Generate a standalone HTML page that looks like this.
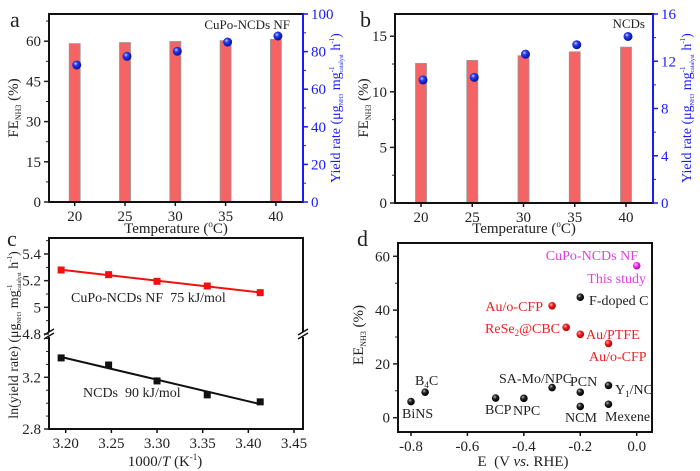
<!DOCTYPE html>
<html><head><meta charset="utf-8"><style>
html,body{margin:0;padding:0;background:#fff}
svg{display:block;font-family:"Liberation Serif",serif}
</style></head><body>
<svg id="fig" width="700" height="471" viewBox="0 0 700 471" xmlns="http://www.w3.org/2000/svg">
<defs>
<radialGradient id="gBlue" cx="0.38" cy="0.35" r="0.65"><stop offset="0" stop-color="#c8d4ff"/><stop offset="0.35" stop-color="#2a3cf0"/><stop offset="1" stop-color="#0010a0"/></radialGradient>
<radialGradient id="gBlack" cx="0.38" cy="0.35" r="0.65"><stop offset="0" stop-color="#bbb"/><stop offset="0.4" stop-color="#222"/><stop offset="1" stop-color="#000"/></radialGradient>
<radialGradient id="gRed" cx="0.38" cy="0.35" r="0.65"><stop offset="0" stop-color="#ffc0c0"/><stop offset="0.4" stop-color="#f02020"/><stop offset="1" stop-color="#b00000"/></radialGradient>
<radialGradient id="gMag" cx="0.38" cy="0.35" r="0.65"><stop offset="0" stop-color="#ffd0ff"/><stop offset="0.4" stop-color="#f040f0"/><stop offset="1" stop-color="#b000b0"/></radialGradient>
</defs>
<g id="pa"></g>
<g id="pb"></g>
<g id="pc"></g>
<g id="pd"></g>

<g font-size="15" fill="#222">
<text x="10" y="27" font-size="22">a</text>
<text x="360" y="27" font-size="22">b</text>
<text x="7" y="246" font-size="22">c</text>
<text x="357" y="246" font-size="22">d</text>

<text x="290" y="29" font-size="13" text-anchor="end">CuPo-NCDs NF</text>
<text x="645" y="28" font-size="13" text-anchor="end">NCDs</text>

<text x="176" y="233" text-anchor="middle">Temperature (<tspan font-size="9" dy="-6">o</tspan><tspan dy="6">C)</tspan></text>
<text x="524" y="233" text-anchor="middle">Temperature (<tspan font-size="9" dy="-6">o</tspan><tspan dy="6">C)</tspan></text>

<text transform="translate(18,108) rotate(-90)" text-anchor="middle">FE<tspan font-size="8" dy="3">NH3</tspan><tspan dy="-3"> (%)</tspan></text>
<text transform="translate(368,108) rotate(-90)" text-anchor="middle">FE<tspan font-size="8" dy="3">NH3</tspan><tspan dy="-3"> (%)</tspan></text>
<text transform="translate(340,108) rotate(-90)" text-anchor="middle" font-size="14" fill="#1a1aff">Yield rate (μg<tspan font-size="6" dy="3">NH3</tspan><tspan dy="-3"> mg</tspan><tspan font-size="7" dy="-6">-1</tspan><tspan font-size="6" dx="-6" dy="9">catalyst</tspan><tspan dy="-3"> h</tspan><tspan font-size="7" dy="-6">-1</tspan><tspan dy="6">)</tspan></text>
<text transform="translate(691,108) rotate(-90)" text-anchor="middle" font-size="14" fill="#1a1aff">Yield rate (μg<tspan font-size="6" dy="3">NH3</tspan><tspan dy="-3"> mg</tspan><tspan font-size="7" dy="-6">-1</tspan><tspan font-size="6" dx="-6" dy="9">catalyst</tspan><tspan dy="-3"> h</tspan><tspan font-size="7" dy="-6">-1</tspan><tspan dy="6">)</tspan></text>

<text transform="translate(18,335) rotate(-90)" text-anchor="middle" font-size="14">ln(yield rate) (μg<tspan font-size="6" dy="3">NH3</tspan><tspan dy="-3"> mg</tspan><tspan font-size="7" dy="-6">-1</tspan><tspan font-size="6" dx="-6" dy="9">catalyst</tspan><tspan dy="-3"> h</tspan><tspan font-size="7" dy="-6">-1</tspan><tspan dy="6">)</tspan></text>
<text x="165" y="466" text-anchor="middle">1000/<tspan font-style="italic">T</tspan> (K<tspan font-size="9" dy="-6">-1</tspan><tspan dy="6">)</tspan></text>
<text x="71" y="302" font-size="14" xml:space="preserve">CuPo-NCDs NF  75 kJ/mol</text>
<text x="83" y="397" font-size="14" xml:space="preserve">NCDs  90 kJ/mol</text>

<text transform="translate(363,335) rotate(-90)" text-anchor="middle">EE<tspan font-size="8" dy="3">NH3</tspan><tspan dy="-3"> (%)</tspan></text>
<text x="523" y="466" text-anchor="middle" xml:space="preserve">E  (V <tspan font-style="italic">vs.</tspan> RHE)</text>
</g>
<g id="dlabels" font-size="13"></g>
</svg>
<script>
// ---------- data ----------
const tempCats = [20, 25, 30, 35, 40];
const feA = [59.1, 59.5, 59.9, 60.2, 60.7];
const yieldA = [72.9, 77.5, 80.2, 85.1, 88.3];
const feB = [12.56, 12.83, 13.25, 13.6, 14.02];
const yieldB = [10.42, 10.64, 12.6, 13.4, 14.1];
const ticksAL = [0, 15, 30, 45, 60];
const ticksAR = [0, 20, 40, 60, 80, 100];
const ticksBL = [0, 5, 10, 15];
const ticksBR = [0, 4, 8, 12, 16];
const invT = [3.195, 3.247, 3.300, 3.355, 3.413];
const lnCuPo = [5.28, 5.245, 5.195, 5.16, 5.11];
const lnNCDs = [3.35, 3.295, 3.172, 3.064, 3.01];
const ticksCX = [3.20, 3.25, 3.30, 3.35, 3.40, 3.45];
const ticksCYup = [4.8, 5.0, 5.2, 5.4];
const ticksCYupLbl = ["4.8", "5", "5.2", "5.4"];
const ticksCYlo = [2.8, 3.2];
const dNames = ["BiNS","B4C","BCP","NPC","SA-Mo/NPC","PCN","NCM","Y1/NC","Mexene","F-doped C","Au/o-CFP","ReSe2@CBC","Au/PTFE","Au/o-CFP 2","CuPo-NCDs NF"];
const dE = [-0.8,-0.75,-0.5,-0.4,-0.3,-0.2,-0.2,-0.1,-0.1,-0.2,-0.3,-0.25,-0.2,-0.1,0.0];
const dEE = [6,9.5,7.3,7.2,11.2,9.5,4.2,12,5,44.8,41.6,33.6,31,27.6,56.5];
const dGroup = ["k","k","k","k","k","k","k","k","k","k","r","r","r","r","m"];
const ticksDX = [-0.8,-0.6,-0.4,-0.2,0.0];
const ticksDXLbl = ["-0.8","-0.6","-0.4","-0.2","0.0"];
const ticksDY = [0,20,40,60];

// ---------- helpers ----------
const NS = "http://www.w3.org/2000/svg";
function mk(parent, tag, attrs){const e=document.createElementNS(NS,tag);for(const k in attrs)e.setAttribute(k,attrs[k]);parent.appendChild(e);return e;}
function lin(d0,d1,r0,r1){return v=>r0+(v-d0)/(d1-d0)*(r1-r0);}

function frame(g, L, T, R, B, rightColor, name){
  let e=mk(g,'rect',{x:L,y:T,width:R-L,height:B-T,fill:'none',stroke:'#111','stroke-width':2});
  
  
  if(rightColor){
    e=mk(g,'line',{x1:R,y1:T,x2:R,y2:B,stroke:rightColor,'stroke-width':2});
    
    
  }
}
function yTicks(g, ticks, labels, ys, x, side, color, minorStep, lo, hi, name){
  ticks.forEach((t,i)=>{
    const y=ys(t);
    let e=mk(g,'line',{x1:x,y1:y,x2:x+side*5,y2:y,stroke:color,'stroke-width':1.5});
    
    
    e=mk(g,'text',{x:x+side*8,y:y+5,'font-size':15,fill:color,'text-anchor':side<0?'end':'start'});
    e.textContent=labels?labels[i]:String(t);
    
    
  });
  if(minorStep){
    for(let v=lo; v<=hi+1e-9; v+=minorStep){
      const y=ys(v);
      const e=mk(g,'line',{x1:x,y1:y,x2:x+side*3,y2:y,stroke:color,'stroke-width':1});
      
      
    }
  }
}
function xTicks(g, ticks, labels, xs, y, name){
  ticks.forEach((t,i)=>{
    const x=xs(t);
    let e=mk(g,'line',{x1:x,y1:y,x2:x,y2:y+4,stroke:'#111','stroke-width':1.5});
    
    
    e=mk(g,'text',{x:x,y:y+19,'font-size':15,fill:'#222','text-anchor':'middle'});
    e.textContent=labels?labels[i]:String(t);
    
    
  });
}
function barPanel(g, L,T,R,B, xs, yL, yR, fe, yd, tL, tR, minL, minR, maxL, maxR, nm){
  tempCats.forEach((c,i)=>{
    const x=xs(c);
    let e=mk(g,'rect',{x:x-5.5,y:yL(fe[i]),width:11,height:yL(0)-yL(fe[i]),fill:'#f46464',stroke:'#999','stroke-width':0.8});
    
    
  });
  tempCats.forEach((c,i)=>{
    const x=xs(c)+2;
    let e=mk(g,'circle',{cx:x,cy:yR(yd[i]),r:4.5,fill:'url(#gBlue)'});
    
    
  });
  frame(g,L,T,R,B,'#1a1aff',nm);
  yTicks(g,tL,null,yL,L,-1,'#222',minL,0,maxL,nm+'-y');
  yTicks(g,tR,null,yR,R,1,'#1a1aff',minR,0,maxR,nm+'-y2');
  xTicks(g,tempCats,null,xs,B,nm+'-x');
}

// ---------- panel a ----------
{
  const g=document.getElementById('pa');
  const xs=v=>74.7+(v-20)/5*50.3;
  const yL=lin(0,70,202,14.4), yR=lin(0,100,202,14);
  barPanel(g,49,14,303,202,xs,yL,yR,feA,yieldA,ticksAL,ticksAR,7.5,10,67.5,100,'panel-a');
}
// ---------- panel b ----------
{
  const g=document.getElementById('pb');
  const xs=v=>421+(v-20)/5*51.25;
  const yL=lin(0,17,203,14), yR=lin(0,16,203,14);
  barPanel(g,395,14,653,203,xs,yL,yR,feB,yieldB,ticksBL,ticksBR,2.5,2,17,16,'panel-b');
}
// ---------- panel c ----------
{
  const g=document.getElementById('pc');
  const L=49,T=238,R=303,B=429,BR=334;
  const xs=lin(3.2,3.45,65.7,294);
  const yU=lin(4.8,5.4,334,254), yLo=lin(2.8,3.2,429,377.3);
  let e=mk(g,'path',{d:`M${L},${BR-2} L${L},${T} L${R},${T} L${R},${BR-2} M${R},${BR+3} L${R},${B} L${L},${B} L${L},${BR+3}`,fill:'none',stroke:'#111','stroke-width':2});
  
  
  [L,R].forEach(x=>{
    const m=mk(g,'path',{d:`M${x-5},${BR+1} L${x+5},${BR-5} M${x-5},${BR+5} L${x+5},${BR-1}`,stroke:'#111','stroke-width':1.5,fill:'none'});
    
    
  });
  yTicks(g,ticksCYup,ticksCYupLbl,yU,L,-1,'#222',0.1,4.8,5.5,'panel-c-y-upper');
  yTicks(g,ticksCYlo,null,yLo,L,-1,'#222',0.1,2.8,3.5,'panel-c-y-lower');
  xTicks(g,ticksCX,ticksCX.map(v=>v.toFixed(2)),xs,B,'panel-c-x');
  const n=invT.length;
  function fit(ys){let mx=0,my=0;for(let i=0;i<n;i++){mx+=invT[i];my+=ys[i];}mx/=n;my/=n;let sxy=0,sxx=0;for(let i=0;i<n;i++){sxy+=(invT[i]-mx)*(ys[i]-my);sxx+=(invT[i]-mx)**2;}const b=sxy/sxx;return x=>my+b*(x-mx);}
  const fU=fit(lnCuPo), fL=fit(lnNCDs);
  const x0=invT[0], x1=invT[n-1];
  e=mk(g,'line',{x1:xs(x0),y1:yU(fU(x0)),x2:xs(x1),y2:yU(fU(x1)),stroke:'#f01010','stroke-width':2});
  
  
  e=mk(g,'line',{x1:xs(x0),y1:yLo(fL(x0)),x2:xs(x1),y2:yLo(fL(x1)),stroke:'#111','stroke-width':2});
  
  
  invT.forEach((x,i)=>{
    let p=mk(g,'rect',{x:xs(x)-3.5,y:yU(lnCuPo[i])-3.5,width:7,height:7,fill:'#f01010'});
    
    
    p=mk(g,'rect',{x:xs(x)-3.5,y:yLo(lnNCDs[i])-3.5,width:7,height:7,fill:'#111'});
    
    
  });
}
// ---------- panel d ----------
{
  const g=document.getElementById('pd');
  const L=398,T=243,R=652,B=432;
  const xs=lin(-0.8,0,411,636.7), ys=lin(0,60,417.7,256.3);
  frame(g,L,T,R,B,null,'panel-d');
  yTicks(g,ticksDY,null,ys,L,-1,'#222',10,0,60,'panel-d-y');
  xTicks(g,ticksDX,ticksDXLbl,xs,B,'panel-d-x');
  const fills={k:'url(#gBlack)',r:'url(#gRed)',m:'url(#gMag)'};
  dE.forEach((x,i)=>{
    const e=mk(g,'circle',{cx:xs(x),cy:ys(dEE[i]),r:3.8,fill:fills[dGroup[i]]});
    
    
  });
  const lg=document.getElementById('dlabels');
  const labs=[
    ["CuPo-NCDs NF",638,260,"end","#e040e0"],["This study",646,283,"end","#e040e0"],
    ["F-doped C",589,305,"start","#222"],["Au/o-CFP",543,311,"end","#ee2020"],
    ["ReSe|2|@CBC",560,333,"end","#ee2020"],["Au/PTFE",586,339,"start","#ee2020"],
    ["Au/o-CFP",589,361,"start","#ee2020"],["B|4|C",415,385,"start","#222"],
    ["BiNS",402,418,"start","#222"],["SA-Mo/NPC",499,383,"start","#222"],
    ["PCN",570,386,"start","#222"],["Y|1|/NC",615,394,"start","#222"],
    ["BCP",485,414,"start","#222"],["NPC",513,415,"start","#222"],
    ["NCM",565,422,"start","#222"],["Mexene",605,421,"start","#222"]];
  labs.forEach(l=>{
    const e=mk(lg,'text',{x:l[1],y:l[2],'text-anchor':l[3],fill:l[4],'font-size':14});
    const parts=l[0].split('|');
    if(parts.length===3){
      e.appendChild(document.createTextNode(parts[0]));
      const s=mk(e,'tspan',{'font-size':9,dy:3});s.textContent=parts[1];
      const t=mk(e,'tspan',{dy:-3});t.textContent=parts[2];
    } else e.textContent=l[0];
    
    
  });
}
</script>
</body></html>
